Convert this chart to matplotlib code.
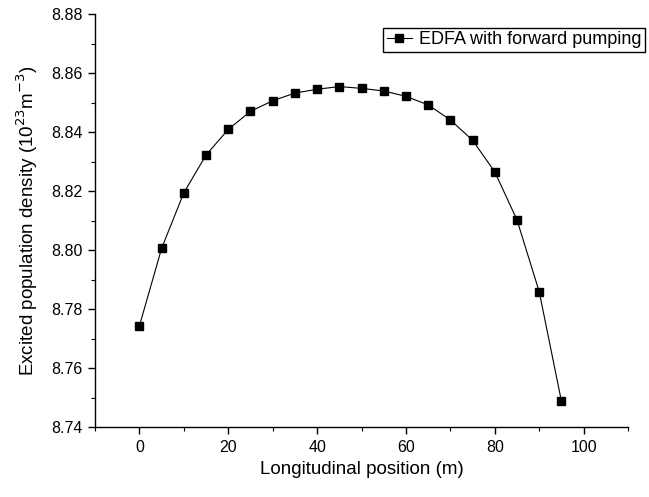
import matplotlib.pyplot as plt
from matplotlib.ticker import MultipleLocator, FormatStrFormatter

plt.rcParams['font.family'] = ['Liberation Sans', 'DejaVu Sans']

# longitudinal position (m) and excited population density (1e23 m^-3)
position = [0, 5, 10, 15, 20, 25, 30, 35, 40, 45,
            50, 55, 60, 65, 70, 75, 80, 85, 90, 95]
density = [8.7743, 8.8006, 8.8194, 8.8322, 8.8409, 8.8470, 8.8506, 8.8532, 8.8545, 8.8554,
           8.8548, 8.8539, 8.8521, 8.8492, 8.8441, 8.8372, 8.8265, 8.8102, 8.7859, 8.7488]
series_name = "EDFA with forward pumping"

fig = plt.figure(figsize=(6.49, 4.97), dpi=100)
ax = fig.add_axes([0.1464, 0.1408, 0.8213, 0.831])

ax.plot(position, density, color='black', linewidth=0.8,
        marker='s', markersize=6, label=series_name)

ax.set_xlim(-10, 110)
ax.set_ylim(8.74, 8.88)
ax.xaxis.set_major_locator(MultipleLocator(20))
ax.xaxis.set_minor_locator(MultipleLocator(10))
ax.yaxis.set_major_locator(MultipleLocator(0.02))
ax.yaxis.set_minor_locator(MultipleLocator(0.01))
ax.yaxis.set_major_formatter(FormatStrFormatter('%.2f'))

for side in ['top', 'right']:
    ax.spines[side].set_visible(False)
for side in ['left', 'bottom']:
    ax.spines[side].set_linewidth(1.0)

ax.tick_params(which='major', direction='out', length=5, width=1.0, labelsize=11.5, pad=4)
ax.tick_params(which='minor', direction='out', length=3, width=0.8)

ax.set_xlabel('Longitudinal position (m)', fontsize=13.5, labelpad=5)
ax.set_ylabel('Excited population density (10$^{23}$m$^{-3}$)', fontsize=13.5, labelpad=8)

fig.legend(loc='upper left', bbox_to_anchor=(0.59, 0.944), fontsize=13,
           fancybox=False, edgecolor='black', framealpha=1, borderpad=0.2,
           handlelength=1.4, handletextpad=0.4, borderaxespad=0)

fig.savefig('out.png', dpi=100)
